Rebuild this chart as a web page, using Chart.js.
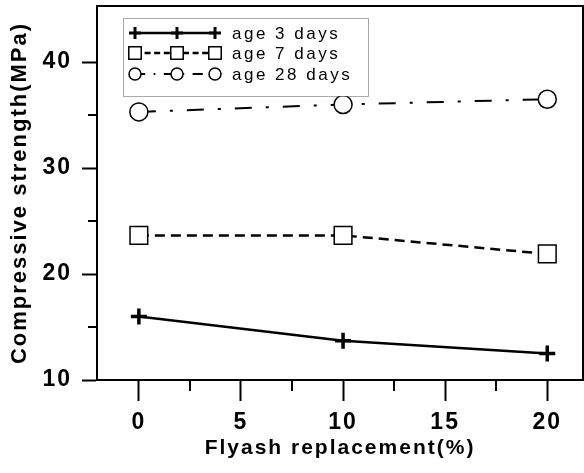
<!DOCTYPE html>
<html>
<head>
<meta charset="utf-8">
<script src="https://cdn.jsdelivr.net/npm/chart.js@4.4.1/dist/chart.umd.min.js"></script>
<style>
  html, body { margin: 0; padding: 0; background: #fff; }
  #wrap { width: 584px; height: 473px; }
</style>
</head>
<body>
<div id="wrap"><canvas id="c" width="584" height="473"></canvas></div>
<script>
// ---- data ----
const xValues = [0, 10, 20];
const age3 = [16.0, 13.7, 12.5];
const age7 = [23.65, 23.65, 21.9];
const age28 = [35.3, 36.0, 36.5];
const seriesNames = ['age 3 days', 'age 7 days', 'age 28 days'];

const yMajorTicks = [10, 20, 30, 40];
const yMinorTicks = [15, 25, 35];
const xMajorTicks = [0, 5, 10, 15, 20];
const xMinorTicks = [2.5, 7.5, 12.5, 17.5];

const xTitle = 'Flyash replacement(%)';
const yTitle = 'Compressive strength(MPa)';

const toPts = (ys) => ys.map((y, i) => ({ x: xValues[i], y: y }));

const datasets = [
  {
    label: seriesNames[0], data: toPts(age3),
    borderColor: '#000', backgroundColor: '#000', borderWidth: 2.5,
    pointStyle: 'cross', pointRadius: 8, pointBorderWidth: 3.5,
    pointBorderColor: '#000', borderDash: [], legendRadius: 6
  },
  {
    label: seriesNames[1], data: toPts(age7),
    borderColor: '#000', backgroundColor: '#fff', borderWidth: 2.5,
    pointStyle: 'rect', pointRadius: 12.5, pointBorderWidth: 1.5,
    pointBorderColor: '#000', pointBackgroundColor: '#fff', borderDash: [10, 6], legendRadius: 8
  },
  {
    label: seriesNames[2], data: toPts(age28),
    borderColor: '#000', backgroundColor: '#fff', borderWidth: 2,
    pointStyle: 'circle', pointRadius: 9, pointBorderWidth: 1.5,
    pointBorderColor: '#000', pointBackgroundColor: '#fff', borderDash: [17, 14, 3, 14], legendRadius: 6
  }
];

const minorTicksPlugin = {
  id: 'minorTicks',
  afterDraw(chart) {
    const ctx = chart.ctx;
    const xs = chart.scales.x, ys = chart.scales.y;
    const ca = chart.chartArea;
    ctx.save();
    ctx.strokeStyle = '#000';
    ctx.lineWidth = 2;
    ctx.beginPath();
    yMinorTicks.forEach(v => {
      const p = Math.round(ys.getPixelForValue(v));
      ctx.moveTo(ca.left - 9, p); ctx.lineTo(ca.left, p);
    });
    xMinorTicks.forEach(v => {
      const p = Math.round(xs.getPixelForValue(v));
      ctx.moveTo(p, ca.bottom); ctx.lineTo(p, ca.bottom + 11);
    });
    ctx.stroke();
    // top and right frame
    ctx.lineWidth = 2;
    ctx.beginPath();
    ctx.moveTo(ca.left - 1, ca.top); ctx.lineTo(ca.right, ca.top); ctx.lineTo(ca.right, ca.bottom);
    ctx.stroke();
    ctx.restore();
  }
};

const legendPlugin = {
  id: 'customLegend',
  afterDraw(chart) {
    const ctx = chart.ctx;
    const bx = 123, by = 18, bw = 245, bh = 78;
    ctx.save();
    ctx.fillStyle = '#fff';
    ctx.fillRect(bx, by, bw, bh);
    ctx.strokeStyle = '#555';
    ctx.lineWidth = 1;
    ctx.setLineDash([1, 1]);
    ctx.strokeRect(bx + 0.5, by + 0.5, bw, bh);
    ctx.setLineDash([]);
    const rows = [33, 53, 74];
    chart.data.datasets.forEach((ds, i) => {
      const y = rows[i];
      const x0 = 135, x1 = 215;
      ctx.strokeStyle = '#000';
      ctx.lineWidth = ds.borderWidth;
      ctx.setLineDash(ds.borderDash.map(d => d * 0.6));
      ctx.beginPath(); ctx.moveTo(x0, y); ctx.lineTo(x1, y); ctx.stroke();
      ctx.setLineDash([]);
      [x0, 177, x1].forEach(px => {
        const opts = {
          pointStyle: ds.pointStyle, rotation: 0,
          radius: ds.pointStyle === 'rect' ? ds.legendRadius * 1.1 : ds.legendRadius,
          borderWidth: ds.pointStyle === 'cross' ? 3 : 1.5
        };
        ctx.fillStyle = ds.pointStyle === 'cross' ? '#000' : '#fff';
        ctx.strokeStyle = '#000';
        ctx.lineWidth = opts.borderWidth;
        Chart.helpers.drawPoint(ctx, opts, px, y);
      });
      ctx.fillStyle = '#000';
      ctx.font = '17px "Liberation Sans", Arial, sans-serif';
      ctx.letterSpacing = '2.5px';
      ctx.textBaseline = 'middle';
      ctx.textAlign = 'left';
      ctx.fillText(ds.label, 232, y + 1);
      ctx.letterSpacing = '0px';
    });
    ctx.restore();
  }
};

const spacingPlugin = {
  id: 'spacing',
  beforeDraw(chart) { chart.ctx.letterSpacing = '2px'; },
  afterDraw(chart) { chart.ctx.letterSpacing = '0px'; }
};

new Chart(document.getElementById('c'), {
  type: 'scatter',
  data: { datasets: datasets.map(d => Object.assign({ showLine: true, tension: 0, fill: false, clip: false }, d)) },
  options: {
    responsive: false,
    animation: false,
    layout: { autoPadding: false, padding: { top: 6, right: 1, left: 0, bottom: 0 } },
    plugins: { legend: { display: false }, tooltip: { enabled: false } },
    scales: {
      x: {
        type: 'linear', min: -2.05, max: 21.75,
        afterFit(s) { s.height = 93; s.paddingLeft = 0; s.paddingRight = 0; },
        afterBuildTicks(s) { s.ticks = xMajorTicks.map(v => ({ value: v })); },
        grid: { drawOnChartArea: false, drawTicks: true, tickLength: 21, tickWidth: 2, tickColor: '#000' },
        border: { display: true, color: '#000', width: 2 },
        ticks: {
          color: '#000', padding: 8, maxRotation: 0, autoSkip: false,
          font: { family: '"Liberation Sans Narrow", "Liberation Sans", Arial, sans-serif', weight: 'bold', size: 23 },
          callback: (v) => String(v)
        },
        title: {
          display: true, text: xTitle, color: '#000',
          font: { family: '"Liberation Sans", Arial, sans-serif', weight: 'bold', size: 21 },
          padding: { top: 0, bottom: 12 }
        }
      },
      y: {
        type: 'linear', min: 10, max: 45.3,
        afterFit(s) { s.width = 97; s.paddingTop = 0; s.paddingBottom = 0; },
        afterBuildTicks(s) { s.ticks = yMajorTicks.map(v => ({ value: v })); },
        grid: { drawOnChartArea: false, drawTicks: true, tickLength: 15, tickWidth: 2, tickColor: '#000' },
        border: { display: true, color: '#000', width: 2 },
        ticks: {
          color: '#000', padding: 10, autoSkip: false,
          font: { family: '"Liberation Sans Narrow", "Liberation Sans", Arial, sans-serif', weight: 'bold', size: 23 },
          callback: (v) => String(v)
        },
        title: {
          display: true, text: yTitle, color: '#000',
          font: { family: '"Liberation Sans", Arial, sans-serif', weight: 'bold', size: 22 },
          padding: { top: 7, bottom: 0 }
        }
      }
    }
  },
  plugins: [spacingPlugin, minorTicksPlugin, legendPlugin]
});
</script>
</body>
</html>
